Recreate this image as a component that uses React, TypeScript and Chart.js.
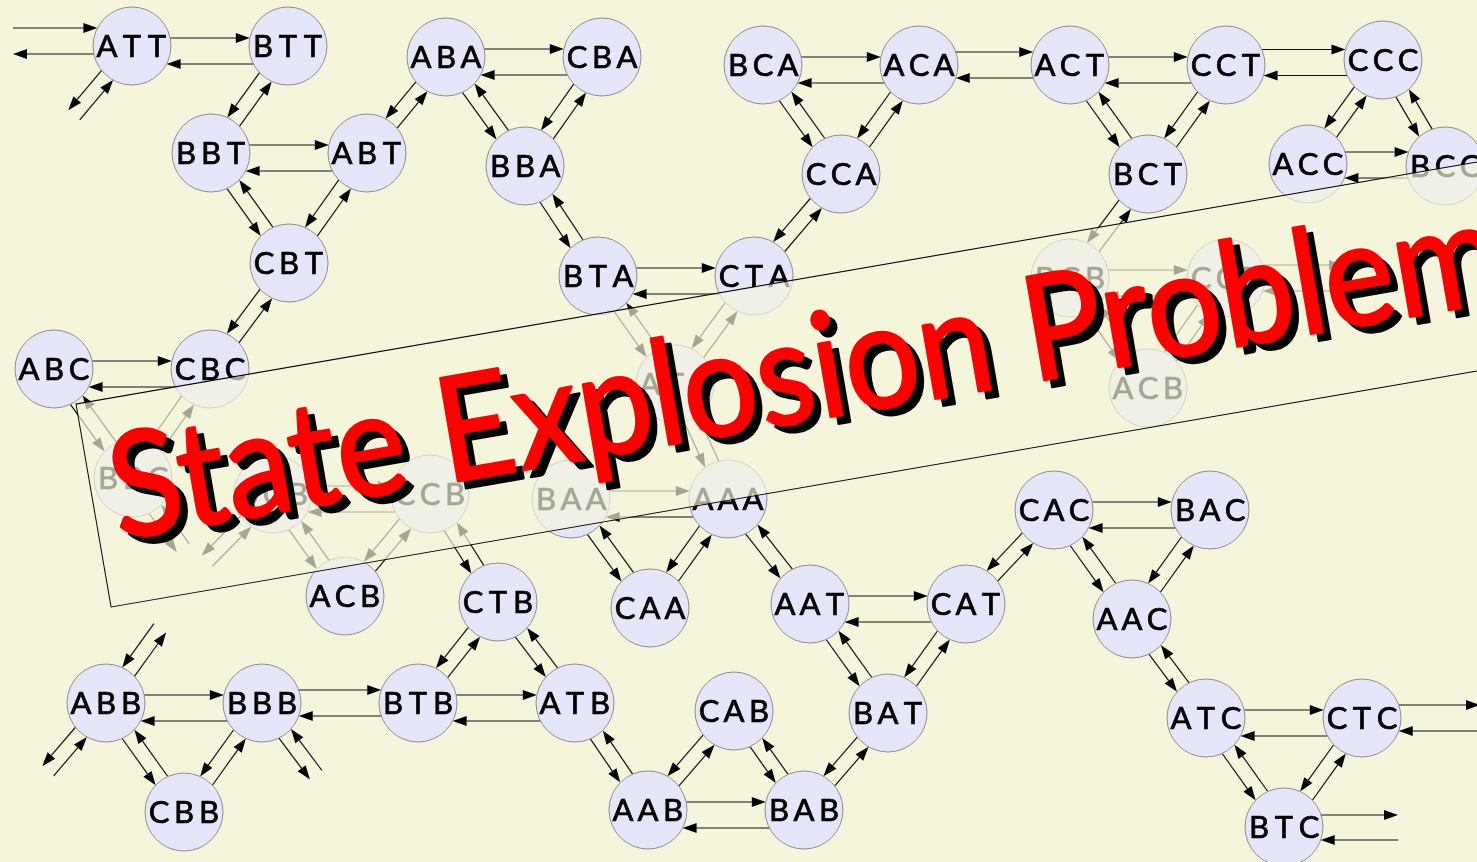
import React, { useEffect, useRef } from "react";
import { Chart, registerables } from "chart.js";

Chart.register(...registerables);

const W = 1477;
const H = 862;

// ---- states (nodes) ----
const nodeIds = ["ATT","BTT","ABA","CBA","BBT","ABT","BBA","CBT","BTA","CTA","ABC","CBC","BCA","ACA","ACT","CCT","CCC","CCA","BCT","ACC","BCC","BCB","CCB","ACB","ATA","BBC","BCB2","CCB2","ACB2","BAA","AAA","CAA","AAT","CAT","CTB","CAC","BAC","AAC","ABB","BBB","BTB","ATB","CBB","CAB","AAB","BAB","BAT","ATC","CTC","BTC"];
const nodeLabels = ["ATT","BTT","ABA","CBA","BBT","ABT","BBA","CBT","BTA","CTA","ABC","CBC","BCA","ACA","ACT","CCT","CCC","CCA","BCT","ACC","BCC","BCB","CCB","ACB","ATA","BBC","BCB","CCB","ACB","BAA","AAA","CAA","AAT","CAT","CTB","CAC","BAC","AAC","ABB","BBB","BTB","ATB","CBB","CAB","AAB","BAB","BAT","ATC","CTC","BTC"];
const nodeX = [132,288,446,602,211,367,525,289,598,754,54,210,763,919,1070,1226,1383,841,1148,1308,1445,1070,1226,1148,675,133,273,430,345,571,728,650,810,966,498,1054,1210,1132,106,262,418,575,184,734,648,804,888,1206,1362,1284];
const nodeY = [46,46,57,57,153,153,166,263,276,276,369,369,65,65,65,65,60,174,174,164,166,278,278,388,384,478,494,494,596,499,499,608,604,604,602,510,510,619,703,703,703,703,812,711,810,810,713,718,718,827];

// ---- transitions (each pair drawn as two opposite arrows) ----
const linkFrom = ["ATT","BBT","ABA","BTA","ABC","BCA","ACA","ACT","CCT","ACC","BCB","BCB2","BAA","AAT","CAC","ABB","BBB","BTB","AAB","ATC",
  "BTT","BBT","ABT","ABT","CBT","ABA","CBA","BBA","BTA","CTA","CTA","BCA","ACA","ACT","CCT","BCT","CCC","CCC","BCB","CCB","ABC","CBC","BCB2","CCB2","CCB2","ATA","BAA","AAA","AAA","CTB","CTB","ABB","BBB","ATB","AAB","BAB","BAB","AAT","CAT","CAT","CAC","BAC","AAC","ATC","CTC"];
const linkTo = ["BTT","ABT","CBA","CTA","CBC","ACA","ACT","CCT","CCC","BCC","CCB","CCB2","AAA","CAT","BAC","BBB","BTB","ATB","BAB","CTC",
  "BBT","CBT","CBT","ABA","CBC","BBA","BBA","BTA","ATA","ATA","CCA","CCA","CCA","BCT","BCT","BCB","ACC","BCC","ACB","ACB","BBC","BBC","ACB2","ACB2","CTB","AAA","CAA","CAA","AAT","BTB","ATB","CBB","CBB","AAB","CAB","CAB","BAT","BAT","BAT","CAC","AAC","AAC","ATC","BTC","BTC"];

// ---- transitions leaving the picture ----
const stubNodes = ["ATT","ATT","ABB","ABB","BBB","BBC","BCB2","CCB","CTC","BTC"];
const stubX = [13,74,160,48,316,183,207,1343,1480,1398];
const stubY = [46,115,628,771,775,548,561,278,718,827];

const title = "State Explosion Problem";

// styling
const BG = "#f5f5dc";
const NODE_FILL = "#e6e6fa";
const NODE_STROKE = "#8e8e8e";
const R = 39;
const DIAG_OFF = 7.5;
const GAP_DEFAULT: [number, number] = [-8, 18];
const GAP_SYM: [number, number] = [-13, 13];
const gapStyles: Record<string, [number, number]> = {
  "ACA|ACT": GAP_SYM,
  "CCT|CCC": GAP_SYM,
  "ACC|BCC": GAP_SYM,
  "BBB|BTB": GAP_SYM,
  "CCB|>": GAP_SYM,
  "CTC|>": GAP_SYM,
  "BTC|>": [-12, 13],
  "ATT|>": [-18, 8],
};

type P = { x: number; y: number; r: number };

function arrow(ctx: CanvasRenderingContext2D, x1: number, y1: number, x2: number, y2: number) {
  const dx = x2 - x1, dy = y2 - y1;
  const L = Math.hypot(dx, dy);
  if (L < 1) return;
  const ux = dx / L, uy = dy / L;
  const hl = 14, hw = 5;
  const bx = x2 - ux * hl, by = y2 - uy * hl;
  ctx.beginPath();
  ctx.moveTo(x1, y1);
  ctx.lineTo(bx, by);
  ctx.stroke();
  ctx.beginPath();
  ctx.moveTo(x2, y2);
  ctx.lineTo(bx - uy * hw, by + ux * hw);
  ctx.lineTo(bx + uy * hw, by - ux * hw);
  ctx.closePath();
  ctx.fill();
}

function clipLen(r: number, off: number) {
  if (r <= 0) return 0;
  return Math.sqrt(Math.max(0, r * r - off * off));
}

function drawPair(ctx: CanvasRenderingContext2D, a: P, b: P, gap: [number, number]) {
  const dy0 = b.y - a.y;
  if (Math.abs(dy0) < 12) {
    const left = a.x < b.x ? a : b;
    const right = a.x < b.x ? b : a;
    const yc = (a.y + b.y) / 2;
    const yt = yc + gap[0];
    arrow(ctx, left.x + clipLen(left.r, yt - left.y), yt, right.x - clipLen(right.r, yt - right.y), yt);
    const yb = yc + gap[1];
    arrow(ctx, right.x - clipLen(right.r, yb - right.y), yb, left.x + clipLen(left.r, yb - left.y), yb);
    return;
  }
  const one = (p: P, q: P) => {
    const dx = q.x - p.x, dy = q.y - p.y;
    const L = Math.hypot(dx, dy);
    const ux = dx / L, uy = dy / L;
    const nx = -uy, ny = ux;
    const o = DIAG_OFF;
    const s = clipLen(p.r, o);
    const e = clipLen(q.r, o);
    arrow(ctx, p.x + nx * o + ux * s, p.y + ny * o + uy * s, q.x + nx * o - ux * e, q.y + ny * o - uy * e);
  };
  one(a, b);
  one(b, a);
}

export default function App() {
  const ref = useRef<HTMLCanvasElement | null>(null);

  useEffect(() => {
    const canvas = ref.current;
    if (!canvas) return;

    const idx: Record<string, number> = {};
    nodeIds.forEach((id, i) => (idx[id] = i));

    const px = (chart: any, i: number): P => ({
      x: chart.scales.x.getPixelForValue(nodeX[i]),
      y: chart.scales.y.getPixelForValue(nodeY[i]),
      r: R,
    });

    const bgPlugin = {
      id: "bg",
      beforeDraw(chart: any) {
        const ctx = chart.ctx;
        ctx.save();
        ctx.fillStyle = BG;
        ctx.fillRect(0, 0, chart.width, chart.height);
        ctx.restore();
      },
    };

    const edgePlugin = {
      id: "edges",
      beforeDatasetsDraw(chart: any) {
        const ctx: CanvasRenderingContext2D = chart.ctx;
        ctx.save();
        ctx.strokeStyle = "#111";
        ctx.fillStyle = "#000";
        ctx.lineWidth = 1.2;
        for (let k = 0; k < linkFrom.length; k++) {
          const a = px(chart, idx[linkFrom[k]]);
          const b = px(chart, idx[linkTo[k]]);
          const gap = gapStyles[linkFrom[k] + "|" + linkTo[k]] || gapStyles[linkTo[k] + "|" + linkFrom[k]] || GAP_DEFAULT;
          drawPair(ctx, a, b, gap);
        }
        for (let k = 0; k < stubNodes.length; k++) {
          const a = px(chart, idx[stubNodes[k]]);
          const b: P = {
            x: chart.scales.x.getPixelForValue(stubX[k]),
            y: chart.scales.y.getPixelForValue(stubY[k]),
            r: 0,
          };
          drawPair(ctx, a, b, gapStyles[stubNodes[k] + "|>"] || GAP_DEFAULT);
        }
        ctx.restore();
      },
    };

    const labelPlugin = {
      id: "labels",
      afterDatasetsDraw(chart: any) {
        const ctx: CanvasRenderingContext2D = chart.ctx;
        ctx.save();
        ctx.fillStyle = "#000";
        ctx.strokeStyle = "#000";
        ctx.lineWidth = 0.7;
        ctx.lineJoin = "round";
        ctx.font = "31px Lato";
        ctx.textAlign = "center";
        ctx.textBaseline = "alphabetic";
        for (let i = 0; i < nodeIds.length; i++) {
          const p = px(chart, i);
          const s = nodeLabels[i];
          for (let j = 0; j < s.length; j++) {
            const lx = p.x + (j - 1) * 25;
            ctx.fillText(s[j], lx, p.y + 11);
            ctx.strokeText(s[j], lx, p.y + 11);
          }
        }
        ctx.restore();
      },
    };

    const bannerPlugin = {
      id: "banner",
      afterDraw(chart: any) {
        const ctx: CanvasRenderingContext2D = chart.ctx;
        const th = (9.8 * Math.PI) / 180;
        ctx.save();
        ctx.translate(76, 404);
        ctx.rotate(-th);
        ctx.fillStyle = "rgba(245,245,220,0.68)";
        ctx.fillRect(0, 0, 1800, 206);
        ctx.strokeStyle = "#000";
        ctx.lineWidth = 1;
        ctx.strokeRect(0, 0, 1800, 206);
        ctx.restore();

        ctx.save();
        ctx.font = "146px Lato";
        const tw = ctx.measureText(title).width;
        const sx = 1410 / tw;
        const layers: [number, number, string][] = [
          [8, 7, "#000"],
          [0, 0, "#ff0000"],
        ];
        for (const [ox, oy, col] of layers) {
          ctx.save();
          ctx.translate(ox, oy);
          ctx.translate(76, 404);
          ctx.rotate(-th);
          ctx.translate(19, 141);
          ctx.scale(sx, 1);
          ctx.fillStyle = col;
          ctx.strokeStyle = col;
          ctx.lineWidth = 2.5;
          ctx.lineJoin = "round";
          ctx.textBaseline = "alphabetic";
          ctx.textAlign = "left";
          ctx.fillText(title, 0, 0);
          ctx.strokeText(title, 0, 0);
          ctx.restore();
        }
        ctx.restore();
      },
    };

    const chart = new Chart(canvas, {
      type: "scatter",
      data: {
        datasets: [
          {
            data: nodeX.map((x, i) => ({ x, y: nodeY[i] })),
            pointRadius: R,
            pointHoverRadius: R,
            pointBackgroundColor: NODE_FILL,
            pointBorderColor: NODE_STROKE,
            pointBorderWidth: 1,
            pointHoverBorderWidth: 1,
            clip: false as any,
          },
        ],
      },
      options: {
        animation: false,
        responsive: false,
        devicePixelRatio: 1,
        events: [],
        layout: { padding: 0, autoPadding: false } as any,
        plugins: { legend: { display: false }, tooltip: { enabled: false }, title: { display: false } },
        scales: {
          x: { type: "linear", min: 0, max: W, display: false },
          y: { type: "linear", min: 0, max: H, reverse: true, display: false },
        },
      },
      plugins: [bgPlugin, edgePlugin, labelPlugin, bannerPlugin],
    });

    const fonts = (document as any).fonts;
    if (fonts && fonts.load) {
      Promise.all([fonts.load("31px Lato"), fonts.load("146px Lato")]).then(() => chart.draw()).catch(() => {});
    }

    return () => chart.destroy();
  }, []);

  return (
    <div style={{ position: "fixed", left: 0, top: 0, width: W, height: H, background: BG }}>
      <canvas ref={ref} width={W} height={H} style={{ display: "block" }} />
    </div>
  );
}
